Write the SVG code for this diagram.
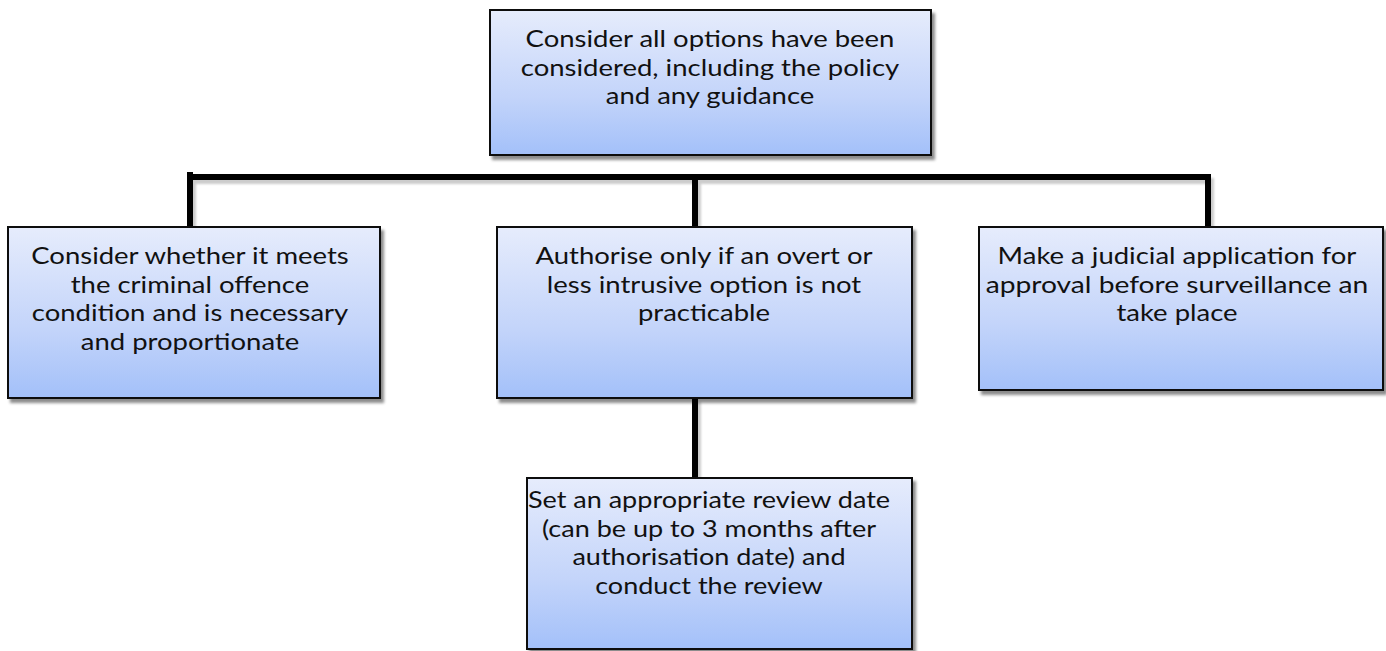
<svg xmlns="http://www.w3.org/2000/svg" width="1386" height="651" viewBox="0 0 1386 651">
  <defs>
    <linearGradient id="boxFill" x1="0" y1="0" x2="0" y2="1">
      <stop offset="0" stop-color="#e6ecfc"/>
      <stop offset="0.6" stop-color="#c3d4fa"/>
      <stop offset="1" stop-color="#a3c0f9"/>
    </linearGradient>
    <filter id="shadow" x="-5%" y="-5%" width="115%" height="120%">
      <feGaussianBlur in="SourceAlpha" stdDeviation="1.8"/>
      <feOffset dx="3" dy="4" result="b"/>
      <feFlood flood-color="#000" flood-opacity="0.45"/>
      <feComposite in2="b" operator="in" result="s"/>
      <feMerge><feMergeNode in="s"/><feMergeNode in="SourceGraphic"/></feMerge>
    </filter>
    <filter id="lineShadow" x="-5%" y="-20%" width="110%" height="160%">
      <feGaussianBlur in="SourceAlpha" stdDeviation="1"/>
      <feOffset dx="3" dy="4" result="b"/>
      <feFlood flood-color="#000" flood-opacity="0.2"/>
      <feComposite in2="b" operator="in" result="s"/>
      <feMerge><feMergeNode in="s"/><feMergeNode in="SourceGraphic"/></feMerge>
    </filter>
  </defs>
  <style>
    .box { fill: url(#boxFill); stroke: #111; stroke-width: 2; filter: url(#shadow); }
    .lbl { font-family: "Lato", "Open Sans", sans-serif; font-size: 23.5px; fill: #111; text-anchor: middle; }
    .conn { stroke: #000; stroke-width: 6; fill: none; stroke-linecap: butt; }
  </style>

  <g id="connectors" filter="url(#lineShadow)">
    <line class="conn" x1="187" y1="177" x2="1211" y2="177"/>
    <line class="conn" x1="190" y1="172" x2="190" y2="227"/>
    <line class="conn" x1="695" y1="177" x2="695" y2="227"/>
    <line class="conn" x1="1208" y1="174" x2="1208" y2="227"/>
    <line class="conn" x1="695" y1="398" x2="695" y2="478"/>
  </g>

  <g id="node-top">
    <rect class="box" x="490" y="10" width="441" height="145"/>
    <text class="lbl" transform="translate(710 47) scale(1.17 1)">Consider all options have been</text>
    <text class="lbl" transform="translate(710 75.5) scale(1.17 1)">considered, including the policy</text>
    <text class="lbl" transform="translate(710 104) scale(1.17 1)">and any guidance</text>
  </g>

  <g id="node-left">
    <rect class="box" x="8" y="227" width="372" height="171"/>
    <text class="lbl" transform="translate(190 264) scale(1.17 1)">Consider whether it meets</text>
    <text class="lbl" transform="translate(190 292.5) scale(1.17 1)">the criminal offence</text>
    <text class="lbl" transform="translate(190 321) scale(1.17 1)">condition and is necessary</text>
    <text class="lbl" transform="translate(190 349.5) scale(1.17 1)">and proportionate</text>
  </g>

  <g id="node-middle">
    <rect class="box" x="497" y="227" width="415" height="171"/>
    <text class="lbl" transform="translate(704 264) scale(1.17 1)">Authorise only if an overt or</text>
    <text class="lbl" transform="translate(704 292.5) scale(1.17 1)">less intrusive option is not</text>
    <text class="lbl" transform="translate(704 321) scale(1.17 1)">practicable</text>
  </g>

  <g id="node-right">
    <rect class="box" x="979" y="227" width="404" height="163"/>
    <text class="lbl" transform="translate(1177 264) scale(1.17 1)">Make a judicial application for</text>
    <text class="lbl" transform="translate(1177 292.5) scale(1.2 1)">approval before surveillance an</text>
    <text class="lbl" transform="translate(1177 321) scale(1.17 1)">take place</text>
  </g>

  <g id="node-bottom">
    <rect class="box" x="527" y="478" width="385" height="171"/>
    <text class="lbl" transform="translate(709 508) scale(1.15 1)">Set an appropriate review date</text>
    <text class="lbl" transform="translate(709 536.5) scale(1.15 1)">(can be up to 3 months after</text>
    <text class="lbl" transform="translate(709 565) scale(1.15 1)">authorisation date) and</text>
    <text class="lbl" transform="translate(709 593.5) scale(1.15 1)">conduct the review</text>
  </g>
</svg>
